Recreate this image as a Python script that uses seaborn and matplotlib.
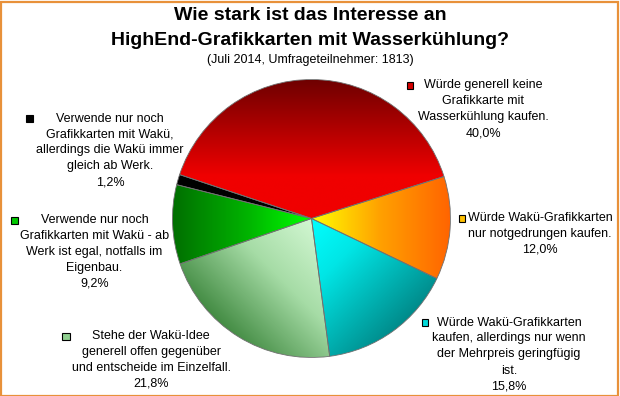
import numpy as np
import matplotlib
matplotlib.use("Agg")
import matplotlib.pyplot as plt
import seaborn as sns
from matplotlib.colors import LinearSegmentedColormap
from matplotlib.patches import Rectangle

# ---------------- data ----------------
title_lines = ["Wie stark ist das Interesse an", "HighEnd-Grafikkarten mit Wasserkühlung?"]
subtitle = "(Juli 2014, Umfrageteilnehmer: 1813)"

categories = [
    "Würde generell keine\nGrafikkarte mit\nWasserkühlung kaufen.",
    "Würde Wakü-Grafikkarten\nnur notgedrungen kaufen.",
    "Würde Wakü-Grafikkarten\nkaufen, allerdings nur wenn\nder Mehrpreis geringfügig\nist.",
    "Stehe der Wakü-Idee\ngenerell offen gegenüber\nund entscheide im Einzelfall.",
    "Verwende nur noch\nGrafikkarten mit Wakü - ab\nWerk ist egal, notfalls im\nEigenbau.",
    "Verwende nur noch\nGrafikkarten mit Wakü,\nallerdings die Wakü immer\ngleich ab Werk.",
]
values = [40.0, 12.0, 15.8, 21.8, 9.2, 1.2]

# gradient stops per slice and gradient direction (degrees)
grad_stops = [
    [(0.0, "#6e0000"), (0.7, "#f00000"), (1.0, "#f00000")],
    [(0.0, "#ffff00"), (0.5, "#ffa000"), (1.0, "#ff6400")],
    [(0.0, "#00ffff"), (0.35, "#00e6e6"), (1.0, "#008a8a")],
    [(0.0, "#d2f7d2"), (0.45, "#a6dca6"), (1.0, "#3f883f")],
    [(0.0, "#00ff00"), (0.45, "#00b400"), (1.0, "#006e00")],
    [(0.0, "#000000"), (1.0, "#000000")],
]
grad_dir = [-90, 0, -45, -135, 180, 0]
key_colors = ["#d40000", "#ffc000", "#00d8d8", "#90d090", "#00c800", "#000000"]

# ---------------- layout (pixels) ----------------
W, H = 620, 396
CX, CY, R = 311.5, 218.5, 139
label_pos = [  # (text centre x, first line y, key x, key y)
    (483, 85, 410, 85),
    (540, 218, 462, 218),
    (509, 322.5, 425, 322.5),
    (151, 336, 66, 336),
    (94.5, 220, 14.5, 220),
    (110, 118.5, 29, 118.5),
]
LINE = 16

sns.set_theme(style="white")
plt.rcParams["font.family"] = ["Liberation Sans", "DejaVu Sans"]

fig = plt.figure(figsize=(W / 100, H / 100), dpi=100)
fig.patch.set_facecolor("white")

ax = fig.add_axes([(CX - R) / W, (H - CY - R) / H, 2 * R / W, 2 * R / H])
wedges, _ = ax.pie(values, startangle=161.6, counterclock=False, radius=1,
                   wedgeprops=dict(edgecolor="#707070", linewidth=0.6))
ax.set_xlim(-1, 1)
ax.set_ylim(-1, 1)
ax.set_aspect("auto")
ax.axis("off")

n = 500
xs = np.linspace(-1.02, 1.02, n)
X, Y = np.meshgrid(xs, xs)
for w, stops, ang in zip(wedges, grad_stops, grad_dir):
    d = np.array([np.cos(np.radians(ang)), np.sin(np.radians(ang))])
    verts = w.get_path().vertices
    proj = verts @ d
    lo, hi = proj.min(), proj.max()
    T = np.clip((X * d[0] + Y * d[1] - lo) / max(hi - lo, 1e-6), 0, 1)
    cmap = LinearSegmentedColormap.from_list("g", stops)
    img = cmap(T)
    im = ax.imshow(img, extent=[-1.02, 1.02, -1.02, 1.02], origin="lower",
                   zorder=w.get_zorder() - 0.1, interpolation="bilinear")
    im.set_clip_path(w)
    w.set_facecolor("none")

def fx(x):
    return x / W

def fy(y):
    return 1 - y / H

# title
fig.text(fx(310), fy(16), title_lines[0], ha="center", va="center",
         fontsize=14, fontweight="bold", color="black")
fig.text(fx(310), fy(40.5), title_lines[1], ha="center", va="center",
         fontsize=14, fontweight="bold", color="black")
fig.text(fx(310), fy(60), subtitle, ha="center", va="center",
         fontsize=9.0, color="black")

# labels
for cat, v, (tx, ty, kx, ky), kc in zip(categories, values, label_pos, key_colors):
    lines = cat.split("\n") + [f"{v:.1f}%".replace(".", ",")]
    for i, ln in enumerate(lines):
        fig.text(fx(tx), fy(ty + i * LINE), ln, ha="center", va="center",
                 fontsize=9.0, color="black")
    fig.patches.append(Rectangle((fx(kx - 3.5), fy(ky + 3.5)), 7 / W, 7 / H,
                                 transform=fig.transFigure, facecolor=kc,
                                 edgecolor="black", linewidth=0.8))

# orange frame
fig.patches.append(Rectangle((0.5 / W, 0.5 / H), (W - 2.5) / W, (H - 2.5) / H,
                             transform=fig.transFigure, facecolor="none",
                             edgecolor="#e8913a", linewidth=1.6))

fig.savefig("out.png", dpi=100)
